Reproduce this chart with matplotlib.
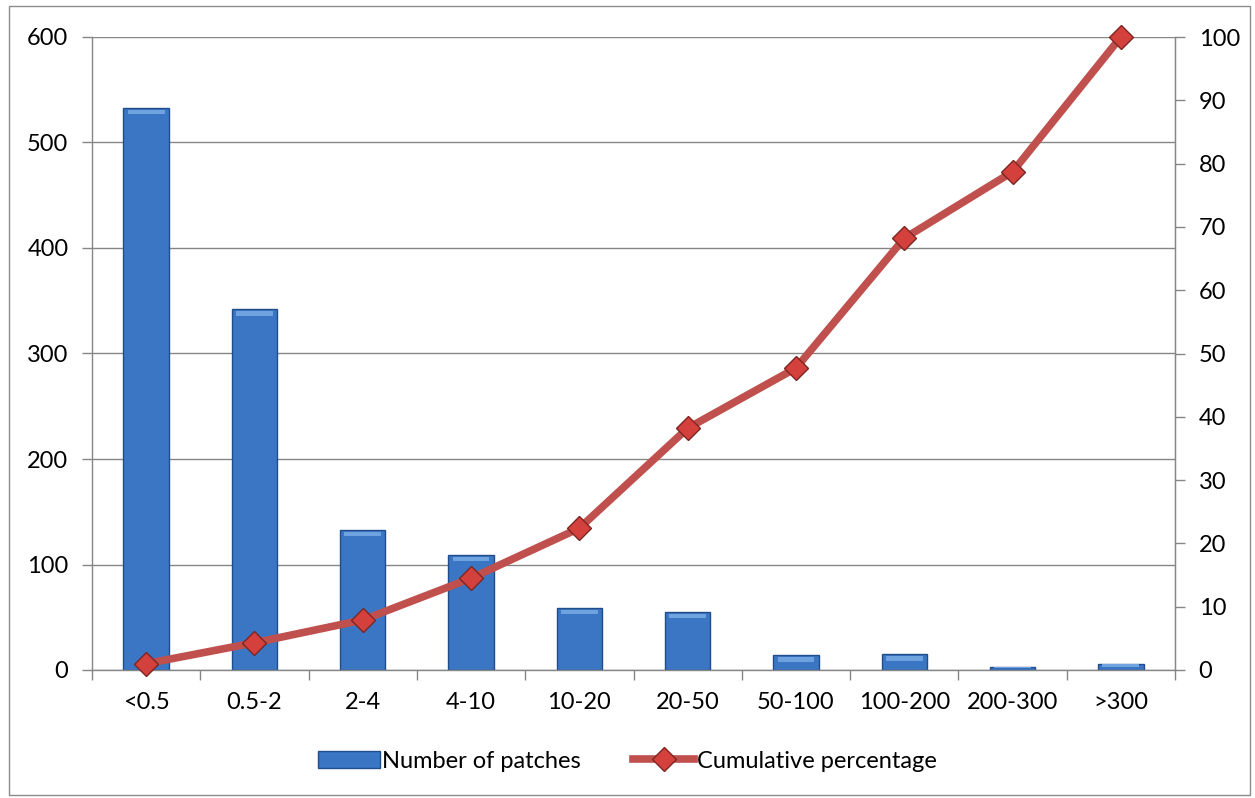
import numpy as np
import matplotlib
matplotlib.use("Agg")
import matplotlib.pyplot as plt
from matplotlib.patches import Rectangle

# ── data ────────────────────────────────────────────────────
categories = ["<0.5", "0.5-2", "2-4", "4-10", "10-20", "20-50",
              "50-100", "100-200", "200-300", ">300"]
n_patches = [533, 342, 133, 109, 59, 55, 14, 15, 3, 6]
cum_pct = [1.0, 4.3, 7.9, 14.5, 22.4, 38.2, 47.7, 68.2, 78.7, 100.0]
left_ticks = [0, 100, 200, 300, 400, 500, 600]
right_ticks = [0, 10, 20, 30, 40, 50, 60, 70, 80, 90, 100]

BAR_C = "#3a76c4"
BAR_EDGE = "#214d8a"
LINE_C = "#c0504d"
GRID_C = "#868686"
FS = 17

plt.rcParams["font.family"] = ["Lato", "DejaVu Sans"]

fig = plt.figure(figsize=(12.55, 7.98), dpi=100)
# outer chart border
fig.patches.append(Rectangle((9 / 1255, 3 / 798), 1241 / 1255, 789 / 798,
                             transform=fig.transFigure, fill=False,
                             ec="#8c8c8c", lw=1.0))

ax = fig.add_axes([92 / 1255, 1 - 670 / 798, 1083 / 1255, 633 / 798])
x = np.arange(len(categories))

ax.bar(x, n_patches, width=0.42, color=BAR_C, edgecolor=BAR_EDGE,
       linewidth=1.0, zorder=2, label="Number of patches")
# light bevel strip on top of each bar
for xi, h in zip(x, n_patches):
    ax.add_patch(Rectangle((xi - 0.17, max(h - 6, h * 0.5)), 0.34, min(4, h * 0.4),
                           color="#6fa3e0", lw=0, zorder=3))

ax.set_xlim(-0.5, len(categories) - 0.5)
ax.set_ylim(0, 600)
ax.set_yticks(left_ticks)
ax.yaxis.grid(True, color=GRID_C, lw=1.0)
ax.set_axisbelow(True)
ax.set_xticks(x)
ax.set_xticklabels(categories)
ax.set_xticks(np.arange(-0.5, len(categories)), minor=True)
ax.tick_params(axis="x", which="major", length=0, pad=16, labelsize=FS)
ax.tick_params(axis="x", which="minor", length=7, color=GRID_C, width=1.0)
ax.tick_params(axis="y", length=7, color=GRID_C, width=1.0, labelsize=FS, pad=10)
for s in ["left", "bottom", "right"]:
    ax.spines[s].set_color(GRID_C)
    ax.spines[s].set_linewidth(1.0)
ax.spines["top"].set_visible(False)

ax2 = ax.twinx()
ax2.plot(x, cum_pct, color=LINE_C, lw=5.5, marker="D", ms=12,
         mfc="#d4413c", mec="#7d2522", mew=1.0, zorder=4, clip_on=False,
         label="Cumulative percentage")
ax2.set_ylim(0, 100)
ax2.set_yticks(right_ticks)
ax2.tick_params(axis="y", length=7, color=GRID_C, width=1.0, labelsize=FS, pad=10)
for s in ["left", "bottom", "top"]:
    ax2.spines[s].set_visible(False)
ax2.spines["right"].set_color(GRID_C)

h1, l1 = ax.get_legend_handles_labels()
h2, l2 = ax2.get_legend_handles_labels()
fig.legend(h1 + h2, l1 + l2, loc="center", bbox_to_anchor=(0.5, 1 - 761 / 798),
           ncol=2, frameon=False, fontsize=FS, handlelength=2.6,
           columnspacing=2.2, handletextpad=0.1)

fig.savefig("out.png", dpi=100)
